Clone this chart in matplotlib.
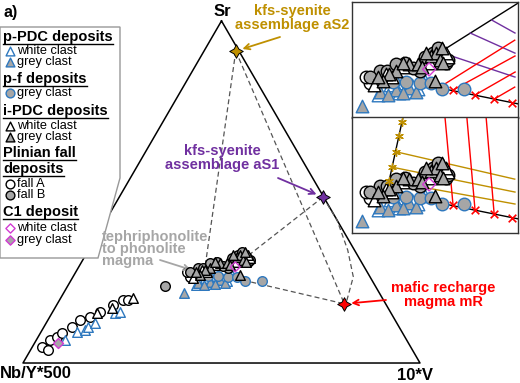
import numpy as np
import matplotlib
matplotlib.use("Agg")
import matplotlib.pyplot as plt
from matplotlib.patches import Polygon

plt.rcParams['font.family'] = ['Liberation Sans', 'DejaVu Sans']

BLUE = '#2E78BE'
GREY = '#A6A6A6'
MAG = '#D23CD2'
GOLD = '#BF9000'
PURP = '#7030A0'
RED = '#FF0000'
DASH = '#555555'

# compositions as (Sr %, 10*V %); Nb/Y*500 is the remainder
ppdc_white_sr = [23.7, 24.3, 25.2, 24.9, 25.7, 22.8, 23.1, 24.0, 24.9,
                 6.7, 9.1, 9.7, 10.5, 11.7, 14.6, 14.9]
ppdc_white_v = [32.7, 34.2, 35.8, 37.7, 39.8, 32.2, 36.1, 39.4, 33.4,
                7.2, 9.1, 10.8, 11.1, 12.3, 15.9, 17.0]
ppdc_grey_sr = [23.4, 23.7, 20.5, 24.3, 22.8, 23.4, 23.1]
ppdc_grey_v = [32.4, 35.3, 30.3, 37.5, 34.2, 39.2, 36.8]
pf_grey_sr = [25.2, 24.0, 24.0, 25.2, 25.4, 25.4]
pf_grey_v = [39.1, 43.9, 48.2, 41.3, 36.4, 33.9]
ipdc_white_sr = [24.9, 28.7, 30.7, 26.6, 27.2, 29.5, 31.6, 14.6, 19.0, 16.1]
ipdc_white_v = [30.4, 34.0, 41.8, 33.0, 31.5, 38.9, 40.9, 11.3, 18.2, 14.4]
ipdc_grey_sr = [27.8, 29.2, 29.2, 31.0, 31.6, 30.1, 25.7, 27.2, 28.7, 29.5, 25.7,
                29.5, 31.6, 32.5, 26.6]
ipdc_grey_v = [33.2, 35.0, 36.8, 38.4, 38.9, 40.4, 41.8, 32.2, 37.8, 41.4, 31.7,
               33.6, 37.1, 39.7, 30.3]
fallA_sr = [25.2, 26.6, 25.7, 4.7, 6.7, 3.8, 7.6, 8.8, 10.5, 12.6, 13.5, 14.9, 17.0,
            18.4, 18.4]
fallA_v = [29.5, 28.0, 30.5, 2.5, 3.4, 4.4, 4.8, 5.4, 7.1, 8.1, 10.2, 11.9, 14.2,
           16.0, 17.2]
fallB_sr = [27.8, 29.5, 31.6, 31.3, 29.5, 22.5, 27.8, 26.6, 27.8, 29.2, 30.7, 32.5,
            30.1, 28.4]
fallB_v = [30.2, 34.1, 38.4, 40.3, 41.9, 24.5, 37.8, 28.8, 31.5, 32.5, 37.3, 38.9,
           42.1, 36.2]
c1_white_sr = [28.1]
c1_white_v = [39.4]
c1_grey_sr = [5.9]
c1_grey_v = [5.9]

# end-members
em_sr = {'aS2': 91.2, 'aS1': 48.5, 'mR': 17.3}
em_v = {'aS2': 8.0, 'aS1': 51.3, 'mR': 72.3}
em_col = {'aS2': GOLD, 'aS1': PURP, 'mR': RED}
magma_sr, magma_v = 24.2, 43.4          # evolved cluster end of dashed trends
aS2_foot_sr, aS2_foot_v = 28.4, 31.7
aS1_foot_sr, aS1_foot_v = 30.7, 40.6
curve_sr = [48.5, 41.8, 33.0, 25.2, 18.4, 17.3]   # aS1 -> mR dashed curve
curve_v = [51.3, 58.2, 65.3, 70.6, 72.4, 72.3]

# inset model lines
mr_line_sr = [24.2, 20.9]
mr_line_v = [43.4, 60.1]
mr_tick_sr = [23.8, 22.75, 21.9, 21.1]
mr_tick_v = [46.15, 50.9, 55.0, 58.85]
as1_line_sr = [31.7, 42.2]
as1_line_v = [39.7, 49.8]
as1_tick_sr = [31.7, 35.7, 38.4]
as1_tick_v = [39.7, 43.5, 46.3]
as1_end_sr = [26.5, 31.5, 35.7]
as1_end_v = [56.7, 54.2, 52.1]
mrb_start_sr = [24.4, 23.8, 22.75, 21.9]
mrb_start_v = [43.3, 46.15, 50.9, 55.0]
mrb_end_sr = [34.2, 30.9, 27.55, 24.4]
mrb_end_v = [52.8, 54.5, 56.2, 57.7]
as2_line_sr = [27.0, 42.2]
as2_line_v = [31.9, 27.35]
as2_tick_sr = [41.1, 38.2, 34.9, 31.7, 28.8]
as2_tick_v = [27.7, 28.6, 29.7, 30.5, 31.35]
as2_end_sr = [29.2, 26.5, 24.0]
as2_end_v = [55.3, 56.7, 57.95]
mrc_start_sr = [23.8, 22.75, 21.9]
mrc_start_v = [46.15, 50.9, 55.0]
mrc_end_sr = [42.2, 42.2, 42.2]
mrc_end_v = [35.4, 39.6, 43.3]
as1_labels = ['5% aS1', '10% aS1', '15% aS1']
as2_labels = ['15% aS2', '10% aS2', '5% aS2']
mr_labels = ['20% mR', '30% mR', '40% mR']

H = np.sqrt(3) / 2


def tern(sr, v):
    sr = np.asarray(sr, float)
    v = np.asarray(v, float)
    return v + sr / 2, sr * H


GROUPS = [
    (fallA_sr, fallA_v, 'o', 'white', 'black'),
    (ppdc_white_sr, ppdc_white_v, '^', 'white', BLUE),
    (ppdc_grey_sr, ppdc_grey_v, '^', GREY, BLUE),
    (pf_grey_sr, pf_grey_v, 'o', GREY, BLUE),
    (fallB_sr, fallB_v, 'o', GREY, 'black'),
    (ipdc_white_sr, ipdc_white_v, '^', 'white', 'black'),
    (ipdc_grey_sr, ipdc_grey_v, '^', GREY, 'black'),
    (c1_white_sr, c1_white_v, 'D', 'none', MAG),
    (c1_grey_sr, c1_grey_v, 'D', GREY, MAG),
]


def draw_samples(ax, scale):
    for i, (sr, v, m, fc, ec) in enumerate(GROUPS):
        x, y = tern(sr, v)
        s = 48 * scale if m != 'D' else 26 * scale
        ax.scatter(x, y, s=s, marker=m, facecolor=fc, edgecolor=ec,
                   linewidth=1.0, zorder=3 + i * 0.1)


fig = plt.figure(figsize=(5.2, 3.83), dpi=100)
ax = fig.add_axes([0, 0, 1, 1])
ax.set_xlim(-5.79, 125.19)
ax.set_ylim(-5.06, 91.9)
ax.axis('off')

# overlay in pixel units for labels and legend
lay = fig.add_axes([0, 0, 1, 1], zorder=5)
lay.set_xlim(0, 520)
lay.set_ylim(383, 0)
lay.axis('off')
lay.patch.set_alpha(0)

tx, ty = tern([100, 0, 0, 100], [0, 0, 100, 0])
ax.plot(tx, ty, color='black', lw=1.1, zorder=1)


def dline(sr, v):
    x, y = tern(sr, v)
    ax.plot(x, y, ls=(0, (4, 2.5)), color=DASH, lw=0.9, zorder=2)


dline([em_sr['aS2'], aS2_foot_sr], [em_v['aS2'], aS2_foot_v])
dline([em_sr['aS2'], em_sr['mR']], [em_v['aS2'], em_v['mR']])
dline([em_sr['aS1'], aS1_foot_sr], [em_v['aS1'], aS1_foot_v])
dline([magma_sr, em_sr['mR']], [magma_v, em_v['mR']])
dline(curve_sr, curve_v)

draw_samples(ax, 1.0)

for k in em_sr:
    x, y = tern(em_sr[k], em_v[k])
    ax.scatter(x, y, s=95, marker=(4, 1, 0), facecolor=em_col[k],
               edgecolor='black', linewidth=0.7, zorder=6)

# corner labels
lay.text(222, 11, 'Sr', fontsize=12, fontweight='bold', ha='center', va='center')
lay.text(0, 373, 'Nb/Y*500', fontsize=12, fontweight='bold', ha='left', va='center')
lay.text(415, 375, '10*V', fontsize=12, fontweight='bold', ha='center', va='center')
lay.text(3, 12, 'a)', fontsize=11.5, fontweight='bold', ha='left', va='center')

# end-member annotations
for txt, pos, col in [('kfs-syenite\nassemblage aS2', (292, 18), GOLD),
                      ('kfs-syenite\nassemblage aS1', (222, 158), PURP),
                      ('mafic recharge\nmagma mR', (443, 295), RED)]:
    lay.text(pos[0], pos[1], txt, color=col, fontsize=10.5, fontweight='bold',
             ha='center', va='center', linespacing=1.0)
lay.text(102, 249, 'tephriphonolite\nto phonolite\nmagma', color=GREY, fontsize=10.5,
         fontweight='bold', ha='left', va='center', linespacing=0.85)

for k, start, col in [('aS2', (280, 37), GOLD), ('aS1', (278, 178), PURP), ('mR', (386, 300), RED)]:
    x, y = tern(em_sr[k], em_v[k])
    ax.annotate('', xy=(x, y), xytext=start, textcoords=lay.transData,
                arrowprops=dict(arrowstyle='->', color=col, lw=1.3, shrinkA=0, shrinkB=5))
x, y = tern(27.0, 29.5)
ax.annotate('', xy=(x, y), xytext=(160, 260), textcoords=lay.transData,
            arrowprops=dict(arrowstyle='->', color=GREY, lw=1.3, shrinkA=0, shrinkB=2))

# legend box
lay.add_patch(Polygon([(0, 27), (120, 27), (120, 178), (98, 258), (0, 258)], closed=True,
                      facecolor='white', edgecolor='#999999', lw=1.0, zorder=1))
headers = [('p-PDC deposits', 37), ('p-f deposits', 79), ('i-PDC deposits', 111),
           ('Plinian fall', 153), ('deposits', 169), ('C1 deposit', 212)]
items = [('^', 'white', BLUE, 'white clast', 51), ('^', GREY, BLUE, 'grey clast', 62),
         ('o', GREY, BLUE, 'grey clast', 93), ('^', 'white', 'black', 'white clast', 126),
         ('^', GREY, 'black', 'grey clast', 137), ('o', 'white', 'black', 'fall A', 184),
         ('o', GREY, 'black', 'fall B', 195), ('D', 'white', MAG, 'white clast', 228),
         ('D', GREY, MAG, 'grey clast', 240)]
fig.canvas.draw()
r = fig.canvas.get_renderer()
for txt, y in headers:
    t = lay.text(3, y, txt, fontsize=10.5, fontweight='bold', ha='left', va='center', zorder=2)
    bb = t.get_window_extent(r)
    lay.plot([3, 3 + bb.width], [y + 6.5, y + 6.5], color='black', lw=1.0, zorder=2)
for m, fc, ec, txt, y in items:
    lay.scatter(10, y, s=40 if m != 'D' else 22, marker=m, facecolor=fc, edgecolor=ec,
                linewidth=1.0, zorder=2)
    lay.text(17, y, txt, fontsize=9.2, ha='left', va='center', zorder=2)


def inset(bottom):
    a = fig.add_axes([352 / 520, bottom, 166 / 520, 116 / 383], zorder=6)
    a.set_xlim(38.64, 70.53)
    a.set_ylim(15.54, 36.53)
    a.set_xticks([])
    a.set_yticks([])
    for s in a.spines.values():
        s.set_color('#333333')
        s.set_linewidth(1.0)
    draw_samples(a, 1.7)
    x, y = tern(mr_line_sr, mr_line_v)
    a.plot(x, y, color='black', lw=1.0, zorder=2)
    x, y = tern(mr_tick_sr, mr_tick_v)
    a.scatter(x, y, marker='x', s=30, color=RED, lw=1.2, zorder=4)
    return a


axb = inset((383 - 118) / 383)
axc = inset((383 - 233) / 383)

x, y = tern(as1_line_sr, as1_line_v)
axb.plot(x, y, color='black', lw=1.0, zorder=2)
for i in range(3):
    x, y = tern([as1_tick_sr[i], as1_end_sr[i]], [as1_tick_v[i], as1_end_v[i]])
    axb.plot(x, y, color=PURP, lw=1.0, zorder=2)
for i in range(4):
    x, y = tern([mrb_start_sr[i], mrb_end_sr[i]], [mrb_start_v[i], mrb_end_v[i]])
    axb.plot(x, y, color=RED, lw=1.0, zorder=2)

x, y = tern(as2_line_sr, as2_line_v)
axc.plot(x, y, color='black', lw=1.0, zorder=2)
x, y = tern(as2_tick_sr, as2_tick_v)
axc.scatter(x, y, marker=(6, 2, 0), s=30, color=GOLD, lw=1.0, zorder=4)
for i in range(3):
    x, y = tern([as2_tick_sr[i + 2], as2_end_sr[i]], [as2_tick_v[i + 2], as2_end_v[i]])
    axc.plot(x, y, color=GOLD, lw=1.0, zorder=2)
for i in range(3):
    x, y = tern([mrc_start_sr[i], mrc_end_sr[i]], [mrc_start_v[i], mrc_end_v[i]])
    axc.plot(x, y, color=RED, lw=1.0, zorder=2)

lay.text(357, 14, 'b)', fontsize=11.5, fontweight='bold', ha='left', va='center', zorder=7)
lay.text(357, 131, 'c)', fontsize=11.5, fontweight='bold', ha='left', va='center', zorder=7)
for txt, (px, py) in zip(as1_labels, [(417, 44), (446, 29), (466, 14)]):
    lay.text(px, py, txt, color=PURP, fontsize=7.5, fontweight='bold', ha='center',
             va='center', zorder=7)
for txt, (px, py) in zip(as2_labels, [(421, 154), (471, 176), (494, 192)]):
    lay.text(px, py, txt, color=GOLD, fontsize=7.5, fontweight='bold', ha='center',
             va='center', rotation=-12, zorder=7)
for off in (0, 116):
    for txt, (px, py) in zip(mr_labels, [(408, 105), (437, 107), (462, 108)]):
        lay.text(px, py + off, txt, color=RED, fontsize=7.5, fontweight='bold', ha='center',
                 va='center', rotation=22, zorder=7)

fig.savefig('out.png', dpi=100)
